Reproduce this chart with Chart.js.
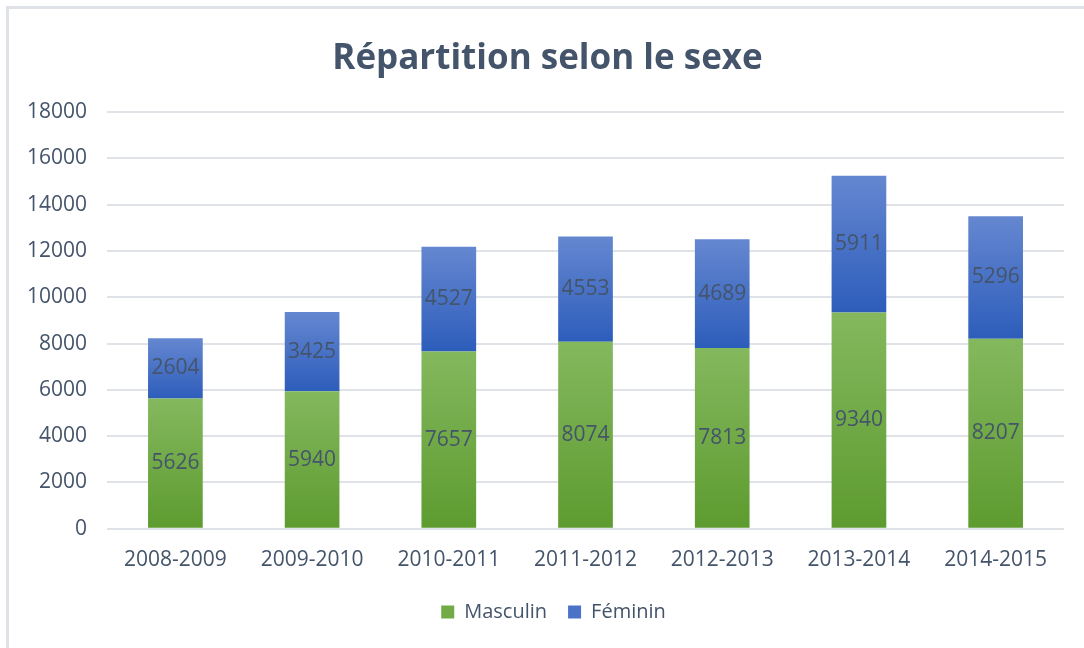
<!DOCTYPE html>
<html>
<head>
<meta charset="utf-8">
<script src="https://cdn.jsdelivr.net/npm/chart.js@4/dist/chart.umd.min.js"></script>
<style>
  html, body { margin: 0; padding: 0; background: #fff; overflow: hidden; }
  #frame { position: absolute; left: 6px; top: 6px; width: 1200px; height: 800px; border: 3px solid #dfe3e8; }
  #wrap { position: absolute; left: 0; top: 0; width: 1084px; height: 648px; }
</style>
</head>
<body>
<div id="frame"></div>
<div id="wrap"><canvas id="sexChart"></canvas></div>
<script>
var years = ['2008-2009', '2009-2010', '2010-2011', '2011-2012', '2012-2013', '2013-2014', '2014-2015'];
var masculin = [5626, 5940, 7657, 8074, 7813, 9340, 8207];
var feminin = [2604, 3425, 4527, 4553, 4689, 5911, 5296];
var yTicks = [0, 2000, 4000, 6000, 8000, 10000, 12000, 14000, 16000, 18000];

var textColor = '#44546a';
var font = 'Open Sans';

// vertical gradient per bar, lighter at the top like the Excel original
function barGradient(ctx, top, bottom, baseOf, topOf) {
    if (ctx.type !== 'data') return top;
    var chart = ctx.chart;
    var y = chart.scales.y;
    if (!y) return top;
    var i = ctx.dataIndex;
    var y0 = y.getPixelForValue(baseOf(i));
    var y1 = y.getPixelForValue(topOf(i));
    if (!isFinite(y0) || !isFinite(y1) || y0 === y1) return top;
    var g = chart.ctx.createLinearGradient(0, y1, 0, y0);
    g.addColorStop(0, top);
    g.addColorStop(1, bottom);
    return g;
}

var segmentLabels = {
    id: 'segmentLabels',
    afterDatasetsDraw: function (chart) {
        var c = chart.ctx;
        c.save();
        c.font = '21px "' + font + '"';
        c.fillStyle = textColor;
        c.textAlign = 'center';
        c.textBaseline = 'middle';
        chart.data.datasets.forEach(function (ds, di) {
            chart.getDatasetMeta(di).data.forEach(function (bar, i) {
                var p = bar.getProps(['x', 'y', 'base'], true);
                c.fillText(String(ds.data[i]), p.x, (p.y + p.base) / 2);
            });
        });
        c.restore();
    }
};

// title and legend sit a little right of the canvas centre in the original
var blockShift = {
    id: 'blockShift',
    afterLayout: function (chart) {
        if (chart.legend) chart.legend.left += 36;
        if (chart.titleBlock) chart.titleBlock.left += 24;
    }
};

var sexCtx = document.getElementById('sexChart').getContext('2d');
var sexChart = new Chart(sexCtx, {
    type: 'bar',
    data: {
        labels: years,
        datasets: [{
            label: 'Masculin',
            data: masculin,
            backgroundColor: function (ctx) {
                return barGradient(ctx, '#84b85e', '#5d9b2f',
                    function () { return 0; },
                    function (i) { return masculin[i]; });
            },
            categoryPercentage: 1,
            barPercentage: 0.4
        }, {
            label: 'Féminin',
            data: feminin,
            backgroundColor: function (ctx) {
                return barGradient(ctx, '#6587d0', '#2d5dbb',
                    function (i) { return masculin[i]; },
                    function (i) { return masculin[i] + feminin[i]; });
            },
            categoryPercentage: 1,
            barPercentage: 0.4
        }]
    },
    plugins: [segmentLabels, blockShift],
    options: {
        responsive: true,
        maintainAspectRatio: false,
        animation: false,
        layout: { padding: { left: 7, right: 20, top: 0, bottom: 16 } },
        plugins: {
            title: {
                display: true,
                text: 'Répartition selon le sexe',
                color: textColor,
                font: { family: font, size: 35, weight: 'bold' },
                padding: { top: 38, bottom: 32 }
            },
            legend: {
                position: 'bottom',
                labels: {
                    color: textColor,
                    font: { family: font, size: 20 },
                    boxWidth: 13,
                    boxHeight: 13,
                    padding: 21,
                    generateLabels: function (chart) {
                        var fills = ['#72aa46', '#4a72c6'];
                        return chart.data.datasets.map(function (ds, i) {
                            return { text: ds.label, fillStyle: fills[i], strokeStyle: fills[i], lineWidth: 0, datasetIndex: i, fontColor: textColor };
                        });
                    }
                }
            },
            tooltip: { enabled: false }
        },
        scales: {
            x: {
                stacked: true,
                grid: { display: false, drawTicks: false },
                border: { display: false },
                ticks: { color: textColor, font: { family: font, size: 21 }, padding: 19 },
                afterFit: function (axis) { axis.height -= 11; }
            },
            y: {
                stacked: true,
                min: 0,
                max: 18000,
                afterBuildTicks: function (axis) {
                    axis.ticks = yTicks.map(function (v) { return { value: v }; });
                },
                grid: { color: '#dfe3e8', lineWidth: 2, drawTicks: false },
                border: { display: false },
                ticks: {
                    color: textColor,
                    font: { family: font, size: 21 },
                    padding: 20,
                    callback: function (v) { return String(v); }
                }
            }
        }
    }
});
</script>
</body>
</html>
